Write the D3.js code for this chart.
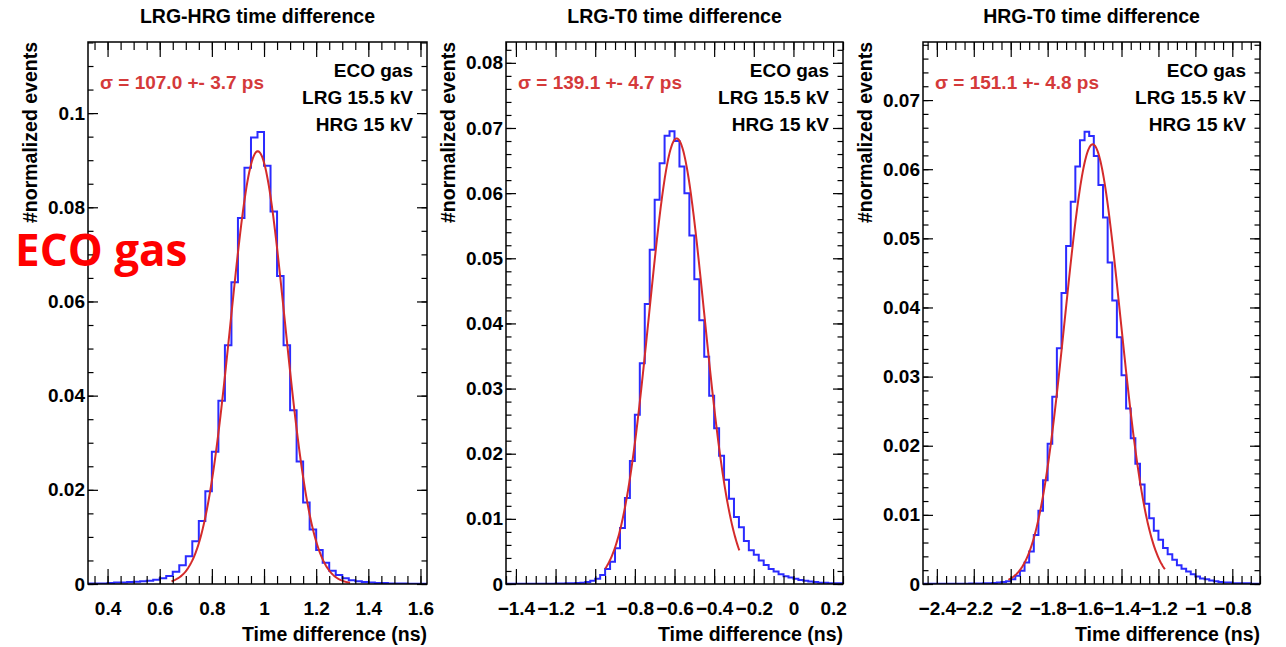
<!DOCTYPE html>
<html>
<head>
<meta charset="utf-8">
<script src="https://cdn.jsdelivr.net/npm/d3@7"></script>
<style>
  html, body { margin: 0; padding: 0; background: #fff; }
  text { font-family: "Liberation Sans", Arial, sans-serif; font-weight: bold; }
</style>
</head>
<body>
<div id="chart"></div>
<script>
// ---- data ----
const panelTitles = ["LRG-HRG time difference", "LRG-T0 time difference", "HRG-T0 time difference"];
const sigmaLabels = ["σ = 107.0 +- 3.7 ps", "σ = 139.1 +- 4.7 ps", "σ = 151.1 +- 4.8 ps"];
const infoLines = ["ECO gas", "LRG 15.5 kV", "HRG 15 kV"];
const binWidth = 0.025;
const binStart = [0.325, -1.45, -2.475];

// normalized entries per bin, LRG-HRG
const countsLRGHRG = [
  0.0001, 0.0001, 0.0001, 0.0002, 0.0003, 0.0003, 0.0004, 0.0005, 0.0006, 0.0007,
  0.0009, 0.0012, 0.0017, 0.0026, 0.0040, 0.0059, 0.0091, 0.0134, 0.0197, 0.0281,
  0.0389, 0.0507, 0.0641, 0.0777, 0.0884, 0.0948, 0.0960, 0.0888, 0.0791, 0.0654,
  0.0507, 0.0369, 0.0260, 0.0173, 0.0116, 0.0072, 0.0045, 0.0028, 0.0019, 0.0012,
  0.0008, 0.0006, 0.0004, 0.0003, 0.0002, 0.0002, 0.0001, 0.0001, 0.0001, 0.00005,
  0.00005, 0.00003
];
// LRG-T0
const countsLRGT0 = [
  0.00002, 0.00002, 0.00002, 0.00003, 0.00003, 0.00003, 0.00004, 0.00004, 0.00005, 0.00005,
  0.00006, 0.00008, 0.0001, 0.0001, 0.00015, 0.0002, 0.0003, 0.0005, 0.0008, 0.0014,
  0.0023, 0.0034, 0.0055, 0.0086, 0.0132, 0.0189, 0.0260, 0.0339, 0.0430, 0.0513,
  0.0590, 0.0646, 0.0688, 0.0695, 0.0680, 0.0641, 0.0600, 0.0535, 0.0468, 0.0405,
  0.0349, 0.0289, 0.0239, 0.0197, 0.0160, 0.0131, 0.0103, 0.0087, 0.0066, 0.0052,
  0.0045, 0.0036, 0.0029, 0.0023, 0.0019, 0.0015, 0.0012, 0.0010, 0.0008, 0.0006,
  0.0005, 0.0004, 0.0003, 0.0002, 0.0002, 0.0001, 0.0001, 0.0001
];
// HRG-T0
const countsHRGT0 = [
  0.00002, 0.00002, 0.00002, 0.00003, 0.00003, 0.00003, 0.00004, 0.00004, 0.00005, 0.00005,
  0.00006, 0.00007, 0.00008, 0.0001, 0.0001, 0.00015, 0.0002, 0.0003, 0.0004, 0.0007,
  0.0012, 0.0019, 0.0031, 0.0047, 0.0071, 0.0106, 0.0150, 0.0203, 0.0271, 0.0341,
  0.0421, 0.0489, 0.0553, 0.0604, 0.0642, 0.0654, 0.0648, 0.0619, 0.0577, 0.0530,
  0.0465, 0.0410, 0.0357, 0.0302, 0.0254, 0.0211, 0.0174, 0.0144, 0.0116, 0.0095,
  0.0077, 0.0064, 0.0052, 0.0043, 0.0035, 0.0027, 0.0022, 0.0018, 0.0014, 0.0011,
  0.0008, 0.0007, 0.0005, 0.0004, 0.0003, 0.0002, 0.0002, 0.0001, 0.0001, 0.0001,
  0.0001, 0.00005, 0.00005
];
const panelCounts = [countsLRGHRG, countsLRGT0, countsHRGT0];

// gaussian fit parameters (constant, mean, sigma) and fitted range
const fitAmp = [0.0919, 0.0684, 0.0636];
const fitMean = [0.976, -0.589, -1.556];
const fitSigma = [0.104, 0.139, 0.150];
const fitRange = [[0.645, 1.33], [-0.95, -0.273], [-2.013, -1.165]];

// axis ranges and tick labels
const xDomains = [[0.325, 1.625], [-1.45, 0.25], [-2.475, -0.65]];
const yDomains = [[0, 0.1151], [0, 0.0832], [0, 0.0784]];
const xMajorTicks = [
  [0.4, 0.6, 0.8, 1, 1.2, 1.4, 1.6],
  [-1.4, -1.2, -1, -0.8, -0.6, -0.4, -0.2, 0, 0.2],
  [-2.4, -2.2, -2, -1.8, -1.6, -1.4, -1.2, -1, -0.8]
];
const yMajorTicks = [
  [0, 0.02, 0.04, 0.06, 0.08, 0.1],
  [0, 0.01, 0.02, 0.03, 0.04, 0.05, 0.06, 0.07, 0.08],
  [0, 0.01, 0.02, 0.03, 0.04, 0.05, 0.06, 0.07]
];
const xMinorStep = [0.05, 0.05, 0.05];
const yMinorStep = [0.005, 0.002, 0.002];

// ---- layout ----
const width = 1286, height = 647;
const frameX = [[88, 427], [506, 843], [923, 1260]];
const frameTop = 42, frameBottom = 584;
const fontSize = 19;
const fmt = d3.format("~g");

const svg = d3.select("#chart").append("svg")
  .attr("width", width)
  .attr("height", height);
svg.append("rect").attr("width", width).attr("height", height).attr("fill", "#fff");

function minorTicks(domain, step) {
  const first = Math.ceil(domain[0] / step - 1e-9);
  const last = Math.floor(domain[1] / step + 1e-9);
  return d3.range(first, last + 1).map(k => +(k * step).toFixed(5));
}

function styleAxis(sel) {
  sel.select(".domain").remove();
  sel.selectAll(".tick line").attr("stroke", "#000").attr("stroke-width", 1.2);
  sel.selectAll(".tick text")
    .attr("fill", "#000")
    .style("font-size", fontSize + "px")
    .style("font-family", "'Liberation Sans', Arial, sans-serif")
    .style("font-weight", "bold");
}

panelTitles.forEach((title, i) => {
  const [left, right] = frameX[i];
  const x = d3.scaleLinear().domain(xDomains[i]).range([left, right]);
  const y = d3.scaleLinear().domain(yDomains[i]).range([frameBottom, frameTop]);
  const g = svg.append("g").attr("class", "panel");

  // histogram + fit, clipped to the frame
  const clipId = "clip" + i;
  g.append("clipPath").attr("id", clipId)
    .append("rect")
    .attr("x", left).attr("y", frameTop)
    .attr("width", right - left).attr("height", frameBottom - frameTop);

  const counts = panelCounts[i];
  const steps = counts.map((v, k) => ({ x: binStart[i] + k * binWidth, v: v }));
  steps.push({ x: binStart[i] + counts.length * binWidth, v: counts[counts.length - 1] });
  const histLine = d3.line()
    .x(d => x(d.x))
    .y(d => y(d.v))
    .curve(d3.curveStepAfter);
  g.append("path")
    .attr("clip-path", `url(#${clipId})`)
    .attr("d", histLine(steps))
    .attr("fill", "none")
    .attr("stroke", "#2b2bff")
    .attr("stroke-width", 2);

  const fitPts = d3.range(0, 201).map(k => {
    const t = fitRange[i][0] + (fitRange[i][1] - fitRange[i][0]) * k / 200;
    const z = (t - fitMean[i]) / fitSigma[i];
    return [t, fitAmp[i] * Math.exp(-0.5 * z * z)];
  });
  g.append("path")
    .attr("clip-path", `url(#${clipId})`)
    .attr("d", d3.line().x(d => x(d[0])).y(d => y(d[1]))(fitPts))
    .attr("fill", "none")
    .attr("stroke", "#d42b2b")
    .attr("stroke-width", 2);

  // axes: ROOT style, ticks inward on all four sides
  const xMinor = minorTicks(xDomains[i], xMinorStep[i]);
  const yMinor = minorTicks(yDomains[i], yMinorStep[i]);

  g.append("g").attr("transform", `translate(0,${frameBottom})`)
    .call(d3.axisBottom(x).tickValues(xMinor).tickSize(-8).tickFormat(""))
    .call(styleAxis);
  g.append("g").attr("transform", `translate(0,${frameBottom})`)
    .call(d3.axisBottom(x).tickValues(xMajorTicks[i]).tickSize(-15).tickPadding(18).tickFormat(fmt))
    .call(styleAxis);
  g.append("g").attr("transform", `translate(0,${frameTop})`)
    .call(d3.axisTop(x).tickValues(xMinor).tickSize(-8).tickFormat(""))
    .call(styleAxis);
  g.append("g").attr("transform", `translate(0,${frameTop})`)
    .call(d3.axisTop(x).tickValues(xMajorTicks[i]).tickSize(-15).tickFormat(""))
    .call(styleAxis);

  g.append("g").attr("transform", `translate(${left},0)`)
    .call(d3.axisLeft(y).tickValues(yMinor).tickSize(-5.5).tickFormat(""))
    .call(styleAxis);
  g.append("g").attr("transform", `translate(${left},0)`)
    .call(d3.axisLeft(y).tickValues(yMajorTicks[i]).tickSize(-10).tickPadding(3).tickFormat(fmt))
    .call(styleAxis);
  g.append("g").attr("transform", `translate(${right},0)`)
    .call(d3.axisRight(y).tickValues(yMinor).tickSize(-5.5).tickFormat(""))
    .call(styleAxis);
  g.append("g").attr("transform", `translate(${right},0)`)
    .call(d3.axisRight(y).tickValues(yMajorTicks[i]).tickSize(-10).tickFormat(""))
    .call(styleAxis);

  // frame
  g.append("rect")
    .attr("x", left).attr("y", frameTop)
    .attr("width", right - left).attr("height", frameBottom - frameTop)
    .attr("fill", "none")
    .attr("stroke", "#000")
    .attr("stroke-width", 1.5);

  // texts
  g.append("text")
    .attr("x", (left + right) / 2).attr("y", 23)
    .attr("text-anchor", "middle")
    .style("font-size", "19.5px")
    .text(title);

  g.append("text")
    .attr("transform", `translate(${left - 51},${frameTop}) rotate(-90)`)
    .attr("text-anchor", "end")
    .style("font-size", "19.5px")
    .text("#normalized events");

  g.append("text")
    .attr("x", right).attr("y", 641)
    .attr("text-anchor", "end")
    .style("font-size", "19.5px")
    .text("Time difference (ns)");

  g.append("text")
    .attr("x", left + 12).attr("y", 89)
    .attr("fill", "#d43a3a")
    .style("font-size", fontSize + "px")
    .text(sigmaLabels[i]);

  infoLines.forEach((line, k) => {
    g.append("text")
      .attr("x", right - 14).attr("y", 77 + k * 26.8)
      .attr("text-anchor", "end")
      .style("font-size", fontSize + "px")
      .text(line);
  });
});

// big slide label
svg.append("text")
  .attr("x", 15).attr("y", 266)
  .attr("fill", "#ff0000")
  .style("font-family", "'Open Sans', sans-serif")
  .style("font-weight", "bold")
  .style("font-size", "44px")
  .text("ECO gas");
</script>
</body>
</html>
